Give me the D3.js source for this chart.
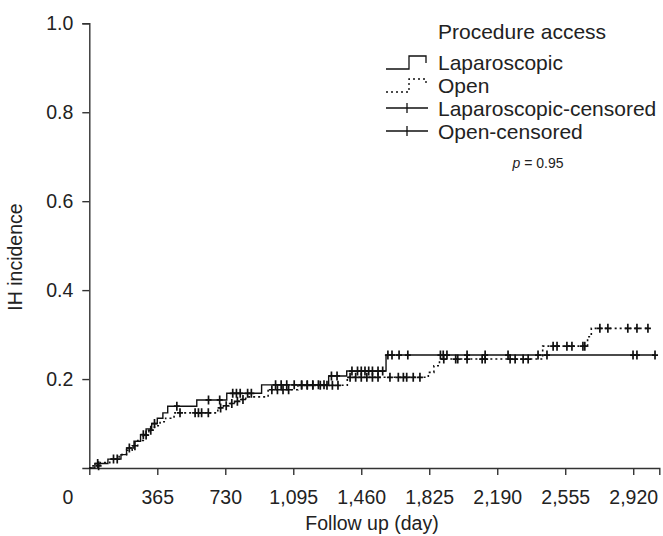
<!DOCTYPE html>
<html>
<head>
<meta charset="utf-8">
<script src="https://cdn.jsdelivr.net/npm/d3@7"></script>
<style>
  body { margin: 0; background: #fff; }
  text { font-family: "Liberation Sans", Arial, sans-serif; fill: #222; }
  .axis path, .axis line { stroke: #333; stroke-width: 1.4; }
  .axis text { font-size: 19.5px; fill: #222; }
</style>
</head>
<body>
<svg class="chart"></svg>
<script>
/* data: step times (days) and cumulative IH incidence */
const lapTimes  = [0, 30, 100, 170, 200, 240, 275, 305, 335, 365, 395, 421, 577, 738, 925, 1285, 1382, 1593];
const lapValues = [0, 0.01, 0.02, 0.03, 0.045, 0.06, 0.075, 0.088, 0.1, 0.112, 0.124, 0.139, 0.153, 0.168, 0.187, 0.207, 0.218, 0.254];
const lapEnd = 3040;
const lapCensor = [45, 130, 215, 290, 350, 470, 640, 700, 770, 790, 810, 850, 870, 1000, 1030, 1060, 1100, 1140, 1170,
  1200, 1230, 1260, 1300, 1330, 1410, 1440, 1460, 1480, 1500, 1520, 1550, 1575, 1603, 1625, 1663, 1710, 1885, 1900,
  1920, 2028, 2125, 2248, 2409, 2457, 2919, 2940, 3037];

const openTimes  = [0, 20, 60, 110, 160, 200, 230, 260, 290, 320, 350, 380, 410, 455, 690, 720, 750, 780, 810, 840, 960,
  1120, 1385, 1820, 1850, 1880, 2434, 2675, 2695];
const openValues = [0, 0.005, 0.012, 0.02, 0.03, 0.04, 0.05, 0.062, 0.074, 0.085, 0.095, 0.104, 0.112, 0.124, 0.135, 0.14,
  0.145, 0.15, 0.154, 0.16, 0.176, 0.186, 0.204, 0.215, 0.23, 0.245, 0.274, 0.295, 0.314];
const openEnd = 3000;
const openCensor = [50, 150, 245, 305, 330, 487, 568, 586, 603, 639, 705, 735, 765, 795, 825, 980, 1010, 1040, 1070, 1140,
  1170, 1200, 1240, 1276, 1305, 1335, 1400, 1430, 1460, 1490, 1520, 1550, 1614, 1659, 1686, 1704, 1739, 1775, 1903, 1967,
  1978, 2028, 2109, 2125, 2259, 2286, 2329, 2356, 2490, 2511, 2564, 2591, 2650, 2660, 2741, 2784, 2891, 2940, 2999];

const xTicks = [365, 730, 1095, 1460, 1825, 2190, 2555, 2920];
const yTicks = [0.2, 0.4, 0.6, 0.8, 1.0];
const legendLabels = ["Laparoscopic", "Open", "Laparoscopic-censored", "Open-censored"];

let width = 663, height = 536;
let x = d3.scaleLinear().domain([0, 3060]).range([89.3, 659.3]);
let y = d3.scaleLinear().domain([0, 1]).range([468, 23.3]);

let chart = d3.select(".chart")
  .attr("width", width)
  .attr("height", height);

/* axes */
chart.append("g")
  .attr("class", "axis")
  .attr("transform", "translate(0," + y(0) + ")")
  .call(d3.axisBottom(x).tickValues(xTicks).tickFormat(d3.format(",")).tickSize(7).tickSizeOuter(7).tickPadding(15));

chart.append("g")
  .attr("class", "axis")
  .attr("transform", "translate(" + x(0) + ",0)")
  .call(d3.axisLeft(y).tickValues(yTicks).tickFormat(d3.format(".1f")).tickSize(7).tickSizeOuter(7).tickPadding(9));

chart.selectAll(".axis .domain").attr("fill", "none");

chart.append("text").text("0")
  .attr("x", 68)
  .attr("y", 504)
  .attr("text-anchor", "middle")
  .style("font-size", "19.5px");

chart.append("text").text("Follow up (day)")
  .attr("x", 372)
  .attr("y", 530)
  .attr("text-anchor", "middle")
  .style("font-size", "19.5px");

chart.append("text").text("IH incidence")
  .attr("text-anchor", "middle")
  .attr("transform", "translate(22,257) rotate(-90)")
  .style("font-size", "19.5px");

/* curves */
function stepPoints(times, values, end) {
  let pts = times.map((t, i) => [t, values[i]]);
  pts.push([end, values[values.length - 1]]);
  return pts;
}
function valueAt(times, values, t) {
  let i = d3.bisectRight(times, t) - 1;
  return values[Math.max(i, 0)];
}

let line = d3.line()
  .x(d => x(d[0]))
  .y(d => y(d[1]))
  .curve(d3.curveStepAfter);

chart.append("path")
  .attr("d", line(stepPoints(lapTimes, lapValues, lapEnd)))
  .attr("fill", "none")
  .attr("stroke", "#111")
  .attr("stroke-width", 1.4);

chart.append("path")
  .attr("d", line(stepPoints(openTimes, openValues, openEnd)))
  .attr("fill", "none")
  .attr("stroke", "#111")
  .attr("stroke-width", 1.6)
  .attr("stroke-dasharray", "2,3");

function plusPath(px, py) {
  return "M" + (px - 3) + "," + py + "H" + (px + 3) + "M" + px + "," + (py - 4.5) + "V" + (py + 4.5);
}

chart.append("g").selectAll("path")
  .data(lapCensor)
  .enter().append("path")
  .attr("d", t => plusPath(x(t), y(valueAt(lapTimes, lapValues, t))))
  .attr("stroke", "#111")
  .attr("stroke-width", 1.7);

chart.append("g").selectAll("path")
  .data(openCensor)
  .enter().append("path")
  .attr("d", t => plusPath(x(t), y(valueAt(openTimes, openValues, t))))
  .attr("stroke", "#111")
  .attr("stroke-width", 1.7);

/* legend */
let legend = chart.append("g").attr("transform", "translate(386,0)");
legend.append("text").text("Procedure access")
  .attr("x", 52)
  .attr("y", 39)
  .style("font-size", "21px");

let rowY = [62, 85, 108, 131];
legend.selectAll(".label")
  .data(legendLabels)
  .enter().append("text")
  .attr("class", "label")
  .attr("x", 52)
  .attr("y", (d, i) => rowY[i] + 7.5)
  .style("font-size", "21px")
  .text(d => d);

legend.append("path")
  .attr("d", "M0," + (rowY[0] + 7) + "H23V" + (rowY[0] - 6) + "H40V" + (rowY[0] + 1))
  .attr("fill", "none").attr("stroke", "#111").attr("stroke-width", 1.3);
legend.append("path")
  .attr("d", "M0," + (rowY[1] + 7) + "H23V" + (rowY[1] - 6) + "H40V" + (rowY[1] + 1))
  .attr("fill", "none").attr("stroke", "#111").attr("stroke-width", 1.4).attr("stroke-dasharray", "2,3");
[rowY[2], rowY[3]].forEach(function(ry) {
  legend.append("path")
    .attr("d", "M0," + ry + "H42M21," + (ry - 5) + "V" + (ry + 5))
    .attr("fill", "none").attr("stroke", "#111").attr("stroke-width", 1.3);
});

let pText = legend.append("text")
  .attr("x", 152)
  .attr("y", 168)
  .attr("text-anchor", "middle")
  .style("font-size", "14px");
pText.append("tspan").text("p").style("font-style", "italic");
pText.append("tspan").text(" = 0.95");
</script>
</body>
</html>
